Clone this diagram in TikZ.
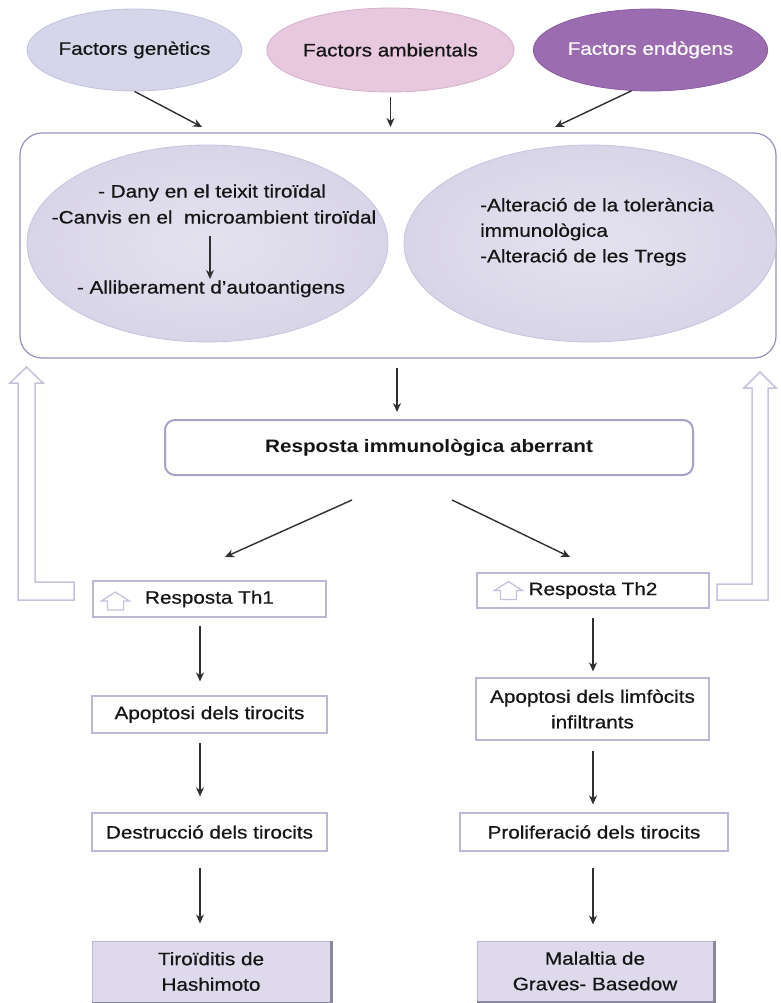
\documentclass[tikz,border=0pt]{standalone}
\usepackage{fontspec}
\setmainfont[FakeStretch=1.15, UprightFeatures={FakeBold=0.6}]{Liberation Sans}
\usetikzlibrary{arrows.meta,shapes.geometric,calc}
\definecolor{eonec}{HTML}{D5D6EA}
\definecolor{eoned}{HTML}{C2C2DC}
\definecolor{etwoc}{HTML}{E8C8DE}
\definecolor{etwod}{HTML}{D6B0CA}
\definecolor{ethreec}{HTML}{9C6CB0}
\definecolor{ethreed}{HTML}{8A5CA0}
\definecolor{innerc}{HTML}{D9D5E8}
\definecolor{innerin}{HTML}{E4E2EF}
\definecolor{innerd}{HTML}{C8C2DA}
\definecolor{bigc}{HTML}{9492BC}
\definecolor{boxc}{HTML}{BAB8D8}
\definecolor{respc}{HTML}{A4A2CA}
\definecolor{hollowc}{HTML}{C6C2DE}
\definecolor{arrc}{HTML}{303030}
\definecolor{finalc}{HTML}{DEDAEC}
\definecolor{shadc}{HTML}{8A869C}
\definecolor{txtc}{HTML}{151515}
\begin{document}
\begin{tikzpicture}[x=1pt,y=-1pt,
  txt/.style={font=\fontsize{18}{25.5}\selectfont, text=txtc, inner sep=0pt},
  tline/.style={txt, text height=13pt, text depth=4pt},
  topell/.style={ellipse, txt, line width=0.8pt},
  innerell/.style={ellipse, draw=innerd, line width=0.8pt, inner color=innerin, outer color=innerc},
  box/.style={draw=boxc, line width=1.2pt, fill=white, txt, align=center},
  finalbox/.style={draw=boxc, line width=1pt, fill=finalc, txt, align=center},
  arr/.style={draw=arrc, line width=1.4pt, -{Stealth[length=9pt,width=8pt]}},
  hollow/.style={draw=hollowc, line width=1.5pt, fill=white, line join=miter},
  icon/.style={draw=hollowc, line width=1.3pt, fill=white}
]
\useasboundingbox (0,0) rectangle (780,1003);
\fill[white] (0,0) rectangle (780,1003);

% top factors
\node[topell, fill=eonec, draw=eoned, minimum width=191pt, minimum height=82pt] (f1) at (134.5,50) {Factors genètics};
\node[topell, fill=etwoc, draw=etwod, minimum width=225pt, minimum height=84pt] (f2) at (390.5,50) {Factors ambientals};
\node[topell, fill=ethreec, draw=ethreed, minimum width=189pt, minimum height=82pt, text=white] (f3) at (650.5,50) {Factors endògens};

% big container
\node[draw=bigc, line width=1.2pt, rounded corners=22pt, minimum width=756pt, minimum height=225pt, inner sep=0pt] (big) at (398,245.5) {};
\node[innerell, minimum width=361pt, minimum height=197pt] (eL) at (207.5,243.5) {};
\node[innerell, minimum width=372pt, minimum height=197pt] (eR) at (590,243.5) {};

\node[tline] (lt1) at (212,193) {- Dany en el teixit tiroïdal};
\node[tline] (lt2) at (214,219) {-Canvis en el\ \ microambient tiroïdal};
\node[tline] (lt3) at (211,289) {- Alliberament d’autoantigens};
\draw[arr, shorten <=17pt, shorten >=10pt] ([xshift=-4pt]lt2.center) -- ([xshift=-1pt]lt3.center);

\node[txt, align=left, anchor=west] (rt) at (480,232) {-Alteració de la tolerància\\immunològica\\-Alteració de les Tregs};

% arrows into container
\coordinate (f1e) at (202,127);
\coordinate (f2e) at (390.5,127);
\coordinate (f3e) at (555,127);
\draw[arr] (f1.south) -- (f1e);
\draw[arr, shorten <=5pt] (f2.south) -- (f2e);
\draw[arr] (f3.-115) -- (f3e);

% aberrant response
\node[box, draw=respc, line width=2pt, rounded corners=10pt, minimum width=528pt, minimum height=55pt, font=\fontsize{18}{25.5}\selectfont\bfseries] (resp) at (429,447.5) {Resposta immunològica aberrant};
\draw[arr, shorten <=9pt, shorten >=7pt] ([xshift=-1pt]big.south) -- ([xshift=-1pt]big.south |- resp.north);

% Th boxes
\node[box, minimum width=233pt, minimum height=36pt] (th1) at (209.5,599) {Resposta Th1};
\node[box, minimum width=232pt, minimum height=35pt] (th2) at (593,590.5) {Resposta Th2};

\coordinate (rs1) at (352,500);
\coordinate (th1a) at (225,557);
\coordinate (rs2) at (452,500);
\coordinate (th2a) at (570,557);
\draw[arr] (rs1) -- (th1a);
\draw[arr] (rs2) -- (th2a);

% small up-arrow icons
\draw[icon] ($(th1.west)+(15,11)$) coordinate (i1) -- ++(0,-9) -- ++(-6,0) -- ++(14,-9) -- ++(14,9) -- ++(-6,0) -- ++(0,9) -- cycle;
\draw[icon] ($(th2.west)+(24,9)$) coordinate (i2) -- ++(0,-9) -- ++(-6,0) -- ++(14,-9) -- ++(14,9) -- ++(-6,0) -- ++(0,9) -- cycle;

% hollow feedback arrows
\draw[hollow] (74,582) -- (35,582) -- (35,383) -- (43,383) -- (26.5,367) -- (10,383) -- (18,383) -- (18,600) -- (74,600) -- cycle;
\draw[hollow] (717,584) -- (752,584) -- (752,388) -- (744,388) -- (760,372) -- (776,388) -- (768,388) -- (768,600) -- (717,600) -- cycle;

% left chain
\node[box, minimum width=235pt, minimum height=37pt] (ap1) at (209.5,714.5) {Apoptosi dels tirocits};
\node[box, minimum width=235pt, minimum height=38pt] (de1) at (209.5,832) {Destrucció dels tirocits};
\node[finalbox, minimum width=238pt, minimum height=61pt] (ti1) at (211,971.5) {Tiroïditis de\\Hashimoto};
\draw[shadc, line width=2.2pt] ([xshift=1pt]ti1.north east) -- ([xshift=1pt,yshift=-1pt]ti1.south east) -- ([yshift=-1pt]ti1.south west);

\draw[arr, shorten <=8pt, shorten >=14pt] ([xshift=-9.5pt]th1.south) -- ([xshift=-9.5pt]ap1.north);
\draw[arr, shorten <=9pt, shorten >=16pt] ([xshift=-9.5pt]ap1.south) -- ([xshift=-9.5pt]de1.north);
\draw[arr, shorten <=16pt, shorten >=17pt] ([xshift=-9.5pt]de1.south) -- ([xshift=-11pt]ti1.north);

% right chain
\node[box, minimum width=233pt, minimum height=62pt] (ap2) at (592.5,709) {Apoptosi dels limfòcits\\infiltrants};
\node[box, minimum width=268pt, minimum height=38pt] (pr2) at (594,832) {Proliferació dels tirocits};
\node[finalbox, minimum width=236pt, minimum height=60pt] (ma2) at (595,971) {Malaltia de\\Graves- Basedow};
\draw[shadc, line width=2.2pt] ([xshift=1pt]ma2.north east) -- ([xshift=1pt,yshift=-1pt]ma2.south east) -- ([yshift=-1pt]ma2.south west);

\draw[arr, shorten <=9pt, shorten >=6pt] (th2.south) -- (th2.south |- ap2.north);
\draw[arr, shorten <=10pt, shorten >=8pt] ([xshift=0.5pt]ap2.south) -- ([xshift=0.5pt]ap2.south |- pr2.north);
\draw[arr, shorten <=16pt, shorten >=16pt] ([xshift=-1pt]pr2.south) -- ([xshift=-1pt]pr2.south |- ma2.north);
\end{tikzpicture}
\end{document}
